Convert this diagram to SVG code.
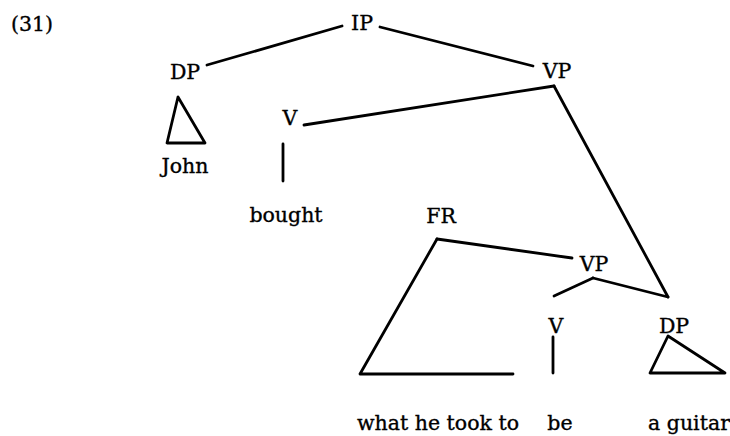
<svg xmlns="http://www.w3.org/2000/svg" width="730" height="436" viewBox="0 0 730 436">
<style>
text{font-family:"DejaVu Serif","Liberation Serif",serif;font-size:20.5px;fill:#000;stroke:#000;stroke-width:0.35;text-anchor:middle}
.l{stroke:#000;stroke-width:2.8;fill:none;stroke-linecap:round;stroke-linejoin:round}
</style>
<rect width="730" height="436" fill="#fff"/>
<text x="32" y="31">(31)</text>
<g id="connectors">
<line class="l" x1="342" y1="26" x2="207" y2="65"/>
<line class="l" x1="380" y1="27" x2="533" y2="66"/>
<line class="l" x1="554" y1="86" x2="304" y2="125"/>
<line class="l" x1="554" y1="86" x2="668" y2="297"/>
<line class="l" x1="283" y1="144" x2="283" y2="181"/>
<line class="l" x1="437" y1="239" x2="572" y2="258"/>
<line class="l" x1="593" y1="278" x2="554" y2="296"/>
<line class="l" x1="593" y1="278" x2="668" y2="297"/>
<line class="l" x1="553" y1="337" x2="553" y2="373"/>
</g>
<g id="IP"><text x="362" y="30">IP</text></g>
<g id="DP1"><text x="185" y="79">DP</text></g>
<g id="John"><polygon class="l" points="178,97 167,143 205,143"/><text x="185" y="173">John</text></g>
<g id="VP1"><text x="557" y="78">VP</text></g>
<g id="V1"><text x="290" y="125">V</text></g>
<g id="bought"><text x="286" y="222">bought</text></g>
<g id="FR"><text x="441" y="223">FR</text><polyline class="l" points="437,239 360,374 513,374"/></g>
<g id="VP2"><text x="594" y="271">VP</text></g>
<g id="V2"><text x="556" y="333">V</text></g>
<g id="DP2"><text x="674" y="333">DP</text><polygon class="l" points="668,336 650,373 725,373"/></g>
<g id="what"><text x="438" y="430">what he took to</text></g>
<g id="be"><text x="560" y="430">be</text></g>
<g id="guitar"><text x="689" y="430">a guitar</text></g>
</svg>
